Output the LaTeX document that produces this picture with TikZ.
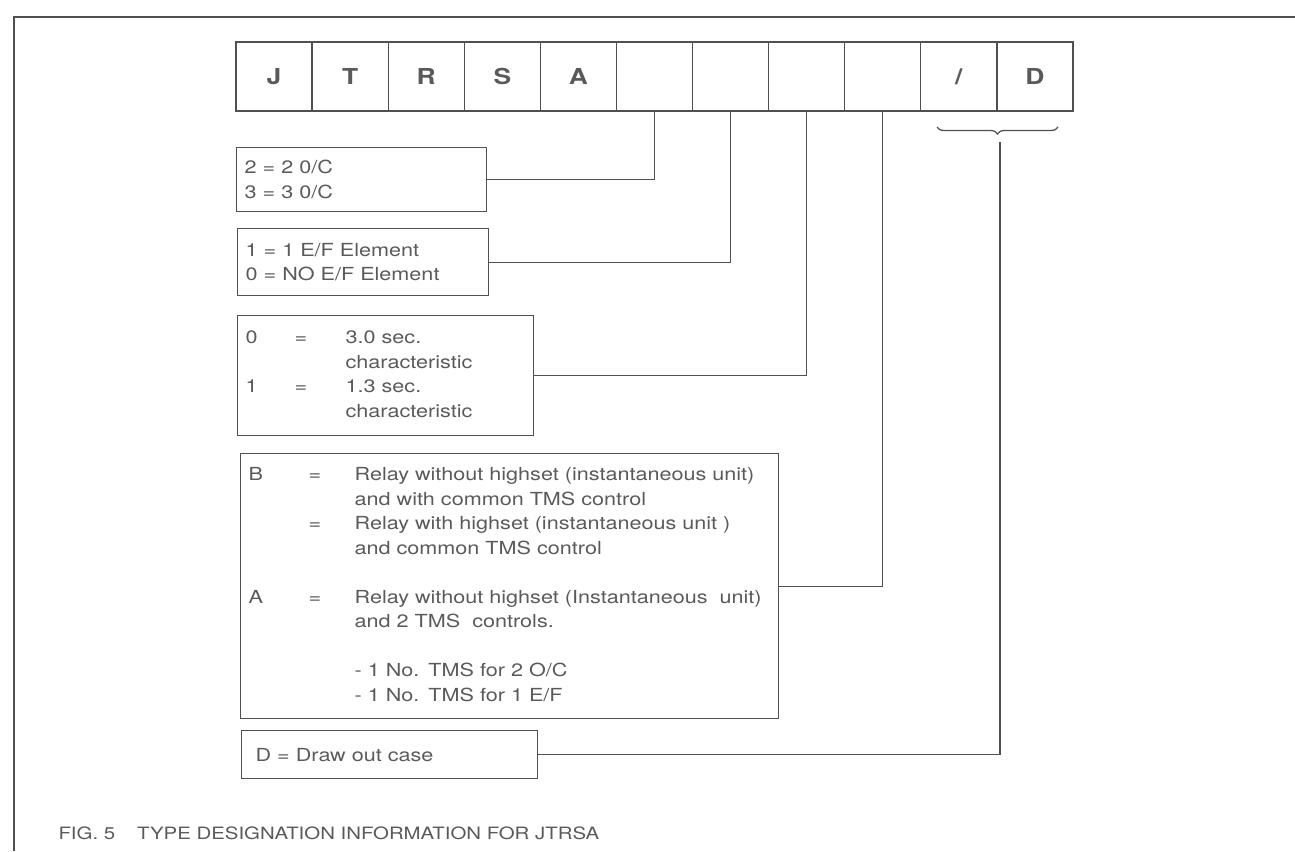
\documentclass[tikz,border=0pt]{standalone}
\usepackage{fontspec}
\newfontfamily\helv{TeX Gyre Heros}[FakeStretch=1.2]
\usetikzlibrary{decorations.pathreplacing}
\definecolor{inkgray}{RGB}{90,90,90}
\definecolor{linegray}{RGB}{80,80,80}

\begin{document}
\begin{tikzpicture}[x=1pt, y=-1pt,
  cell/.style={draw=linegray, line width=1.3pt, minimum width=76.1pt, minimum height=69pt, inner sep=0pt,
    text=inkgray, font={\helv\bfseries\fontsize{22}{26}\selectfont}},
  infobox/.style={draw=linegray, line width=1.3pt, anchor=north west, inner xsep=8pt, inner ysep=0pt,
    align=left, text=inkgray, font={\helv\fontsize{18}{24.5}\selectfont}},
  link/.style={draw=linegray, line width=1.3pt}]
\useasboundingbox (0,0) rectangle (1295,851);

  % page frame
  \draw[linegray, line width=1.6pt] (14,851) -- (14,17) -- (1295,17);

  % type code cells
  \foreach \ch [count=\i] in {J,T,R,S,A,{},{},{},{},/,D}
    \node[cell] (c\i) at (197.95+76.09*\i, 76.5) {\ch};

  % option boxes
  \node[infobox, text width=234pt, minimum height=64pt] (oc) at (236,147)
       {2 = 2 0/C\\3 = 3 0/C};
  \node[infobox, text width=235pt, minimum height=67pt] (ef) at (237,228)
       {1 = 1 E/F Element\\0 = NO E/F Element};
  \node[infobox, text width=280pt, minimum height=120pt] (curve) at (237,315)
       {\begin{tabular}{@{}p{49pt}@{}p{51pt}@{}l@{}}
        0 & = & 3.0 sec.\\
          &   & characteristic\\
        1 & = & 1.3 sec.\\
          &   & characteristic
        \end{tabular}};
  \node[infobox, text width=522pt, minimum height=265pt] (hs) at (240,453)
       {\begin{tabular}{@{}p{60pt}@{}p{46pt}@{}l@{}}
        B & = & Relay without highset (instantaneous unit)\\
          &   & and with common TMS control\\
          & = & Relay with highset (instantaneous unit )\\
          &   & and common TMS control\\[24.5pt]
        A & = & Relay without highset (Instantaneous \ unit)\\
          &   & and 2 TMS \ controls.\\[24.5pt]
          &   & - 1 No. TMS for 2 O/C\\
          &   & - 1 No. TMS for 1 E/F
        \end{tabular}};
  \node[infobox, text width=280pt, minimum height=48pt] (case) at (241,730)
       {\hspace*{6pt}D = Draw out case};

  % connectors
  \draw[link] (c6.south) |- (oc.east);
  \draw[link] (c7.south) |- (ef.east);
  \draw[link] (c8.south) |- (curve.east);
  \draw[link] (c9.south) |- (hs.east);

  % brace under the suffix
  \draw[link, decorate, decoration={brace, mirror, amplitude=7pt}] (937,127) -- (1058,127);
  \coordinate (bt) at (1000,142);
  \draw[link] (bt) |- (case.east);

  % caption
  \node[anchor=west, text=inkgray, font={\helv\fontsize{17}{20}\selectfont}] (cap) at (55,833)
       {FIG. 5\hspace{22pt}TYPE DESIGNATION INFORMATION FOR JTRSA};
\end{tikzpicture}
\end{document}
